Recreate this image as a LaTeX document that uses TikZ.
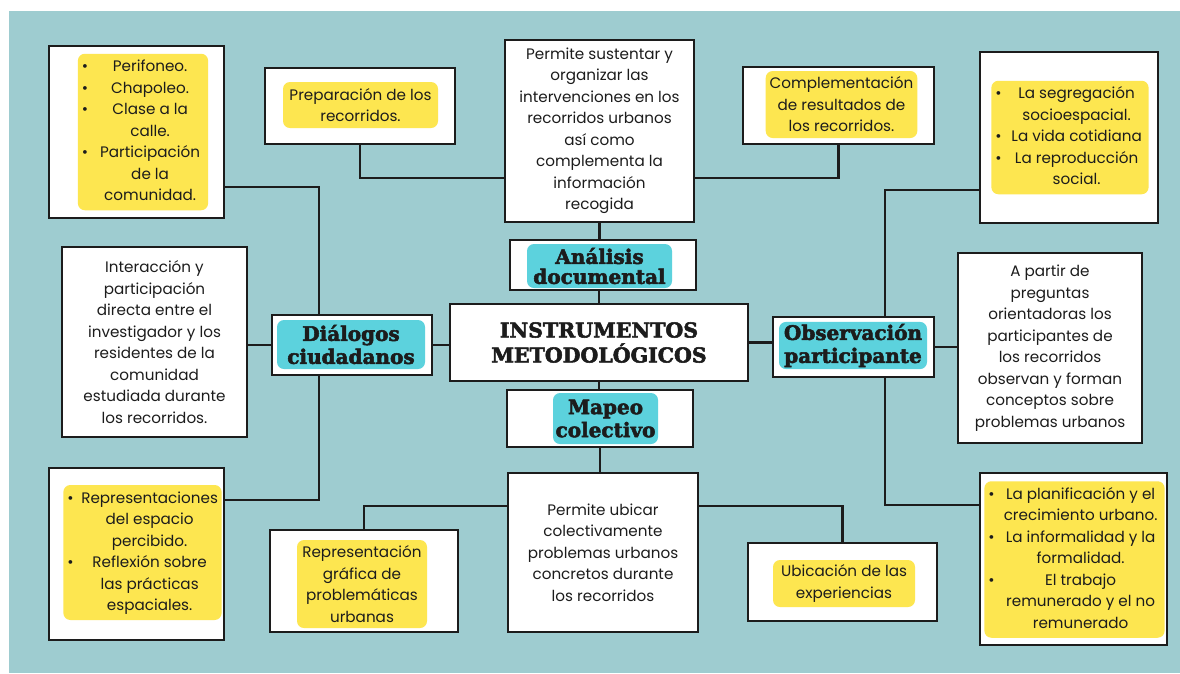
\documentclass[tikz,border=0pt]{standalone}
\usepackage{fontspec}
\setmainfont{Poppins}
\newfontfamily\headfont{DejaVu Serif}[BoldFeatures={FakeBold=2.6}]
\usepackage{array}
\definecolor{bgteal}{RGB}{158,204,208}
\definecolor{hlyellow}{RGB}{253,230,80}
\definecolor{hlcyan}{RGB}{92,210,221}
\definecolor{ink}{RGB}{28,28,28}
\pgfdeclarelayer{paper}
\pgfdeclarelayer{wires}
\pgfsetlayers{paper,wires,main}
\tikzset{
  box/.style={draw=ink, line width=1.8pt, fill=white, inner sep=0pt, align=center},
  conn/.style={draw=ink, line width=2.2pt},
  hly/.style={fill=hlyellow, rounded corners=7pt, inner xsep=4pt, inner ysep=3pt, align=center},
  hlc/.style={fill=hlcyan, rounded corners=7pt, inner sep=2pt, align=center,
              font=\headfont\bfseries\fontsize{20}{23}\selectfont},
}
\begin{document}
\begin{tikzpicture}[x=1pt,y=-1pt,font=\fontsize{15.2}{21.5}\selectfont,text=ink]
\useasboundingbox (0,0) rectangle (1180,673);
\begin{pgfonlayer}{paper}
\fill[white] (0,0) rectangle (1180,673);
\fill[bgteal] (9,11) rectangle (1180,673);
\end{pgfonlayer}

% ---- boxes ----
\node[box, minimum width=175, minimum height=172] (tl) at (136.5,132) {};
\node[hly] (tlt) at (143,132) {\begin{tabular}{@{}c@{\hspace{8pt}}w{c}{108pt}@{}}
• & Perifoneo.\\
• & Chapoleo.\\
• & Clase a la\\
  & calle.\\
• & Participación\\
  & de la\\
  & comunidad.
\end{tabular}};

\node[box, minimum width=190, minimum height=76] (prep) at (360,106) {};
\node[hly, minimum width=155, minimum height=46] (prept) at (360.5,105) {Preparación de los\\recorridos.};

\node[box, minimum width=189, minimum height=182] (tc) at (599.5,131) {Permite sustentar y\\organizar las\\intervenciones en los\\recorridos urbanos\\así como\\complementa la\\información\\recogida};

\node[box, minimum width=191, minimum height=77] (comp) at (838.5,105.5) {};
\node[hly, minimum width=147, minimum height=67] (compt) at (841.5,104.5) {Complementación\\de resultados de\\los recorridos.};

\node[box, minimum width=178, minimum height=171] (tr) at (1069,137.5) {};
\node[hly] (trt) at (1070,137.5) {\begin{tabular}{@{}c@{\hspace{7pt}}w{c}{136pt}@{}}
• & La segregación\\
  & socioespacial.\\
• & La vida cotidiana\\
• & La reproducción\\
  & social.
\end{tabular}};

\node[box, minimum width=185, minimum height=190] (lm) at (154.5,342) {Interacción y\\participación\\directa entre el\\investigador y los\\residentes de la\\comunidad\\estudiada durante\\los recorridos.};

\node[box, minimum width=160, minimum height=60] (dia) at (352,345) {};
\node[hlc, minimum width=148, minimum height=49] (diat) at (351,344.5) {Diálogos\\ciudadanos};

\node[box, minimum width=298, minimum height=77, font=\headfont\bfseries\fontsize{20.5}{25}\selectfont] (cen) at (599,342.5) {INSTRUMENTOS\\METODOLÓGICOS};

\node[box, minimum width=186, minimum height=50] (ana) at (603,265) {};
\node[hlc, minimum width=145, minimum height=44, font=\headfont\bfseries\fontsize{20}{20}\selectfont] (anat) at (599.5,266) {Análisis\\documental};

\node[box, minimum width=186, minimum height=57] (map) at (600,418.5) {};
\node[hlc, minimum width=105, minimum height=51] (mapt) at (605.5,418.5) {Mapeo\\colectivo};

\node[box, minimum width=161, minimum height=60] (obs) at (853.5,347) {};
\node[hlc, minimum width=148, minimum height=47] (obst) at (853,345.5) {Observación\\participante};

\node[box, minimum width=184, minimum height=190] (rm) at (1050,348) {A partir de\\preguntas\\orientadoras los\\participantes de\\los recorridos\\observan y forman\\conceptos sobre\\problemas urbanos};

\node[box, minimum width=175, minimum height=172] (bl) at (136.5,554) {};
\node[hly] (blt) at (142.5,552.5) {\begin{tabular}{@{}c@{\hspace{8pt}}w{c}{136pt}@{}}
• & Representaciones\\
  & del espacio\\
  & percibido.\\
• & Reflexión sobre\\
  & las prácticas\\
  & espaciales.
\end{tabular}};

\node[box, minimum width=188, minimum height=102] (rep) at (364,581) {};
\node[hly, minimum width=130, minimum height=88] (rept) at (362,584) {Representación\\gráfica de\\problemáticas\\urbanas};

\node[box, minimum width=190, minimum height=159] (bc) at (603,552.5) {Permite ubicar\\colectivamente\\problemas urbanos\\concretos durante\\los recorridos};

\node[box, minimum width=189, minimum height=78] (ubi) at (842.5,582) {};
\node[hly, minimum width=142, minimum height=47] (ubit) at (844,583.5) {Ubicación de las\\experiencias};

\node[box, minimum width=187, minimum height=172] (br) at (1073.5,559) {};
\node[hly] (brt) at (1074.5,559.5) {\begin{tabular}{@{}c@{\hspace{6pt}}w{c}{160pt}@{}}
• & La planificación y el\\
  & crecimiento urbano.\\
• & La informalidad y la\\
  & formalidad.\\
• & El trabajo\\
  & remunerado y el no\\
  & remunerado
\end{tabular}};

% ---- connectors ----
\begin{pgfonlayer}{wires}
\draw[conn] ([yshift=-55pt]tl.east) -| ([xshift=-33pt]dia.north);
\draw[conn] ([yshift=54pt]bl.east) -| ([xshift=-33pt]dia.south);
\draw[conn] (lm.east |- dia.west) -- (dia.west);
\draw[conn] (dia.east) -- (dia.east -| cen.west);
\draw[conn] (prep.south) |- ([yshift=-47pt]tc.west);
\draw[conn] (comp.south) |- ([yshift=-47pt]tc.east);
\draw[conn] (tc.south) -- (tc.south |- ana.north);
\draw[conn] (cen.north |- ana.south) -- (cen.north);
\draw[conn] (cen.south) -- (cen.south |- map.north);
\draw[conn] (map.south) -- (map.south |- bc.north);
\draw[conn] (cen.east) -- (cen.east -| obs.west);
\draw[conn] (obs.east) -- (obs.east -| rm.west);
\draw[conn] ([yshift=-52.5pt]tr.west) -| ([xshift=31.5pt]obs.north);
\draw[conn] ([yshift=54pt]br.west) -| ([xshift=31.5pt]obs.south);
\draw[conn] (rep.north) |- ([yshift=46.5pt]bc.west);
\draw[conn] ([yshift=46.5pt]bc.east) -| (ubi.north);
\end{pgfonlayer}
\end{tikzpicture}
\end{document}
